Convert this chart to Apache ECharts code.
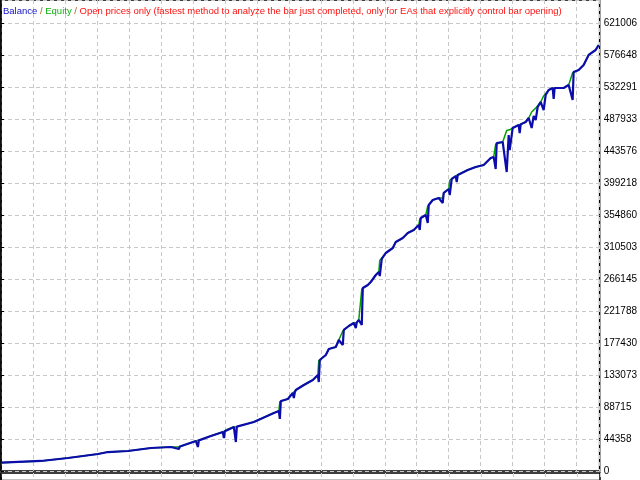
<!DOCTYPE html>
<html>
<head>
<meta charset="utf-8">
<script src="https://cdn.jsdelivr.net/npm/echarts@6/dist/echarts.min.js"></script>
<style>
html,body{margin:0;padding:0;background:#fff;}
#container{width:640px;height:480px;}
</style>
</head>
<body>
<div id="container"></div>
<script>
// trade number along the test, balance and equity after each trade
var tradeNo = [0,40,67,97,107,127,150,170,178,179,180,195,197,198,199,210,222,223,224,225,
    233,235,236,237,253,273,278,279,280,287,292,293,294,295,303,312,317,318,319,325,
    328,335,338,342,343,348,353,355,356,358,361,362,367,370,375,378,379,381,385,392,
    395,402,407,413,418,419,420,425,427,428,432,438,442,443,448,449,451,455,456,457,
    467,475,483,490,493,495,496,502,506,508,509,512,518,519,520,525,528,531,533,535,
    537,540,543,545,548,552,553,554,563,568,572,573,578,583,588,595,598];
var balance = [11500,13900,18000,23600,26300,27700,31900,33300,30500,34000,36000,41600,33300,42500,43000,48500,54100,45700,55000,56800,
    61000,40200,61500,62400,67900,80400,83200,72100,97000,99800,108100,101200,109000,112300,119200,126100,133100,123400,153900,160800,
    169100,171900,181600,174700,195500,201000,205200,198200,206000,209300,202400,253700,257800,262000,271700,275900,270300,293900,302200,309100,
    317400,323000,329900,334100,341000,334100,350700,354900,343800,368700,375700,378400,371500,385400,390900,382600,404800,408900,400600,410300,
    417200,421400,424200,433900,435300,418600,454700,456100,414500,465800,445000,475500,479600,468500,480500,483800,489300,475500,492100,486500,
    504600,511500,500400,521200,528100,530900,515700,530900,530900,535100,514300,553100,555900,562800,576700,583600,590500];
var equity = [11500,13900,18000,23600,26300,27700,31900,33300,33300,34000,36000,41600,41600,42500,43000,48500,54100,54100,55000,56800,
    61000,61000,61500,62400,67900,80400,83200,96000,97000,99800,108100,108100,109000,112300,119200,126100,133100,153000,153900,160800,
    169100,171900,181600,194000,195500,201000,205200,205200,206000,209300,252000,253700,257800,262000,271700,275900,292000,293900,302200,309100,
    317400,323000,329900,334100,341000,349000,350700,354900,367000,368700,375700,378400,378400,385400,390900,403000,404800,408900,408900,410300,
    417200,421400,424200,433900,435300,453000,454700,456100,472000,472000,473000,475500,479600,479600,480500,483800,489300,497600,497600,503000,
    504600,511500,520000,521200,528100,530900,530900,530900,530900,535100,552000,553100,555900,562800,576700,583600,590500];
var tickStep = 44357.556;
var axisMax = 652900;

var titleParts = {
    balance: 'Balance',
    equity: 'Equity',
    mode: 'Open prices only (fastest method to analyze the bar just completed, only for EAs that explicitly control bar opening)'
};

var pairs = function (xs, ys) {
    return xs.map(function (x, i) { return [x, ys[i]]; });
};

var dom = document.getElementById('container');
var myChart = echarts.init(dom, null, {renderer: 'canvas'});

var dash = {color: '#c8c8c8', type: [4, 3], width: 1};
var fs = 9.5;

var option = {
    animation: false,
    backgroundColor: '#fff',
    title: {
        left: 3,
        top: 6,
        padding: 0,
        text: '{b|' + titleParts.balance + '}{s| / }{e|' + titleParts.equity + '}{s| / }{r|' + titleParts.mode + '}',
        textStyle: {
            fontFamily: 'Liberation Sans',
            fontSize: fs,
            fontWeight: 'normal',
            rich: {
                b: {color: '#1010c8', fontFamily: 'Liberation Sans', fontSize: fs},
                s: {color: '#a06030', fontFamily: 'Liberation Sans', fontSize: fs},
                e: {color: '#10b010', fontFamily: 'Liberation Sans', fontSize: fs},
                r: {color: '#ff1010', fontFamily: 'Liberation Sans', fontSize: fs}
            }
        }
    },
    grid: [
        {left: 1, right: 40, top: 0, bottom: 9, show: true, borderColor: '#000', borderWidth: 1.5, backgroundColor: '#fff'},
        {left: 1, right: 40, top: 473, height: 30, show: true, borderColor: '#000', borderWidth: 1.5}
    ],
    xAxis: [
        {
            type: 'value', gridIndex: 0, min: 0, max: 599, interval: 32,
            axisLine: {show: false}, axisTick: {show: false}, axisLabel: {show: false},
            splitLine: {show: true, lineStyle: dash}
        },
        {
            type: 'value', gridIndex: 1, min: 0, max: 599, interval: 32,
            axisLine: {show: false}, axisTick: {show: false}, axisLabel: {show: false},
            splitLine: {show: true, lineStyle: dash}
        }
    ],
    yAxis: [
        {
            type: 'value', gridIndex: 0, position: 'right',
            min: 0, max: axisMax, interval: tickStep,
            axisLine: {show: true, lineStyle: {color: '#000', width: 1.5}},
            axisTick: {show: true, length: 3, lineStyle: {color: '#000'}},
            axisLabel: {
                margin: 4, showMaxLabel: false,
                color: '#000', fontFamily: 'Liberation Sans', fontSize: 10,
                formatter: function (v) { return String(Math.round(v)); }
            },
            splitLine: {show: true, lineStyle: dash}
        },
        {
            type: 'value', gridIndex: 1, min: 0, max: 1, position: 'right',
            axisLine: {show: true, lineStyle: {color: '#000', width: 1.5}},
            axisTick: {show: false}, axisLabel: {show: false}, splitLine: {show: false}
        }
    ],
    series: [
        {
            name: 'Equity', type: 'line', xAxisIndex: 0, yAxisIndex: 0,
            data: pairs(tradeNo, equity),
            symbol: 'none', lineStyle: {color: '#00a000', width: 1.5}, z: 2
        },
        {
            name: 'Balance', type: 'line', xAxisIndex: 0, yAxisIndex: 0,
            data: pairs(tradeNo, balance),
            symbol: 'none', lineStyle: {color: '#0c0cac', width: 2.2}, z: 3
        }
    ]
};

if (option && typeof option === 'object') {
    myChart.setOption(option, true);
}
</script>
</body>
</html>
